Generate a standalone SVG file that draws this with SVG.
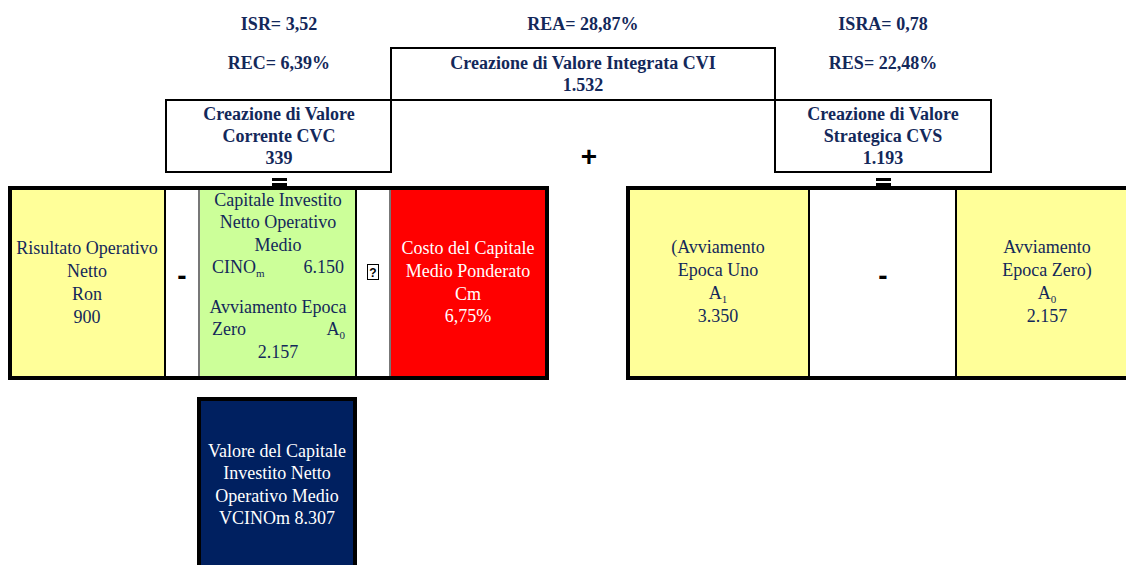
<svg xmlns="http://www.w3.org/2000/svg" width="1126" height="565" viewBox="0 0 1126 565">
<style>
.b{font-family:"Liberation Serif",serif;font-weight:bold;font-size:18px;fill:#13285a;text-anchor:middle}
.r{font-family:"Liberation Serif",serif;font-size:18px;fill:#13285a;text-anchor:middle}
.w{font-family:"Liberation Serif",serif;font-size:18px;fill:#ffffff;text-anchor:middle}
.s{text-anchor:start}
.e{text-anchor:end}
.op{font-family:"Liberation Sans",sans-serif;font-weight:bold;font-size:28px;fill:#000;text-anchor:middle}
.box{fill:#fff;stroke:#000;stroke-width:2}
.cell{stroke:none}
</style>
<rect width="1126" height="565" fill="#fff"/>
<g id="labels">
<text class="b" x="279" y="30">ISR= 3,52</text>
<text class="b" x="279" y="69">REC= 6,39%</text>
<text class="b" x="583" y="30">REA= 28,87%</text>
<text class="b" x="883" y="30">ISRA= 0,78</text>
<text class="b" x="883" y="69">RES= 22,48%</text>
</g>
<g id="connectors" fill="none" stroke="#000" stroke-width="2">
<path d="M391,100 V172"/>
<path d="M775,100 V172"/>
</g>
<g id="cvi">
<rect class="box" x="391" y="48" width="384" height="52"/>
<text class="b" x="583" y="69">Creazione di Valore Integrata CVI</text>
<text class="b" x="583" y="91">1.532</text>
</g>
<g id="cvc">
<rect class="box" x="166" y="100" width="225" height="72"/>
<text class="b" x="279" y="120">Creazione di Valore</text>
<text class="b" x="279" y="142">Corrente CVC</text>
<text class="b" x="279" y="164">339</text>
</g>
<g id="cvs">
<rect class="box" x="775" y="100" width="216" height="72"/>
<text class="b" x="883" y="120">Creazione di Valore</text>
<text class="b" x="883" y="142">Strategica CVS</text>
<text class="b" x="883" y="164">1.193</text>
</g>
<g id="plus"><text class="op" x="589" y="166">+</text></g>
<g id="eq1"><rect x="272" y="178" width="15" height="3" fill="#000"/><rect x="272" y="183" width="15" height="3" fill="#000"/></g>
<g id="eq2"><rect x="876" y="178" width="15" height="3" fill="#000"/><rect x="876" y="183" width="15" height="3" fill="#000"/></g>
<g id="cvc-formula">
<rect x="8" y="186" width="541" height="194" fill="#000"/>
<rect class="cell" x="12" y="190" width="152" height="186" fill="#ffff99"/>
<rect class="cell" x="166" y="190" width="32" height="186" fill="#fff"/>
<rect class="cell" x="200" y="190" width="155" height="186" fill="#ccff99"/>
<rect class="cell" x="357" y="190" width="32" height="186" fill="#fff"/>
<rect class="cell" x="391" y="190" width="154" height="186" fill="#ff0000"/>
<rect x="198" y="190" width="2" height="186" fill="#777"/>
<rect x="389" y="190" width="2" height="186" fill="#777"/>
<text class="r" x="87" y="254">Risultato Operativo</text>
<text class="r" x="87" y="277">Netto</text>
<text class="r" x="87" y="300">Ron</text>
<text class="r" x="87" y="323">900</text>
<text class="op" x="182" y="285">-</text>
<text class="r" x="278" y="206">Capitale Investito</text>
<text class="r" x="278" y="228">Netto Operativo</text>
<text class="r" x="278" y="251">Medio</text>
<text class="r s" x="212" y="273">CINO<tspan font-size="11" dy="4">m</tspan></text>
<text class="r e" x="344" y="273">6.150</text>
<text class="r" x="278" y="313">Avviamento Epoca</text>
<text class="r s" x="212" y="335">Zero</text>
<text class="r e" x="345" y="335">A<tspan font-size="11" dy="4">0</tspan></text>
<text class="r" x="278" y="358">2.157</text>
<rect x="367.5" y="264.5" width="11" height="15" fill="#fff" stroke="#000" stroke-width="1"/>
<text x="373" y="277" font-family="Liberation Sans,sans-serif" font-size="12" font-weight="bold" text-anchor="middle" fill="#000">?</text>
<text class="w" x="468" y="254">Costo del Capitale</text>
<text class="w" x="468" y="277">Medio Ponderato</text>
<text class="w" x="468" y="300">Cm</text>
<text class="w" x="468" y="322">6,75%</text>
</g>
<g id="cvs-formula">
<rect x="626" y="186" width="510" height="194" fill="#000"/>
<rect class="cell" x="630" y="190" width="178" height="186" fill="#ffff99"/>
<rect class="cell" x="810" y="190" width="145" height="186" fill="#fff"/>
<rect class="cell" x="957" y="190" width="175" height="186" fill="#ffff99"/>
<text class="r" x="718" y="253">(Avviamento</text>
<text class="r" x="718" y="276">Epoca Uno</text>
<text class="r" x="718" y="299">A<tspan font-size="11" dy="4">1</tspan></text>
<text class="r" x="718" y="322">3.350</text>
<text class="op" x="883" y="285">-</text>
<text class="r" x="1047" y="253">Avviamento</text>
<text class="r" x="1047" y="276">Epoca Zero)</text>
<text class="r" x="1047" y="299">A<tspan font-size="11" dy="4">0</tspan></text>
<text class="r" x="1047" y="322">2.157</text>
</g>
<g id="vcinom">
<rect x="197" y="397" width="160" height="175" fill="#000"/>
<rect x="201" y="401" width="152" height="170" fill="#002060"/>
<text class="w" x="277" y="457">Valore del Capitale</text>
<text class="w" x="277" y="479">Investito Netto</text>
<text class="w" x="277" y="502">Operativo Medio</text>
<text class="w" x="277" y="524">VCINOm 8.307</text>
</g>
</svg>
